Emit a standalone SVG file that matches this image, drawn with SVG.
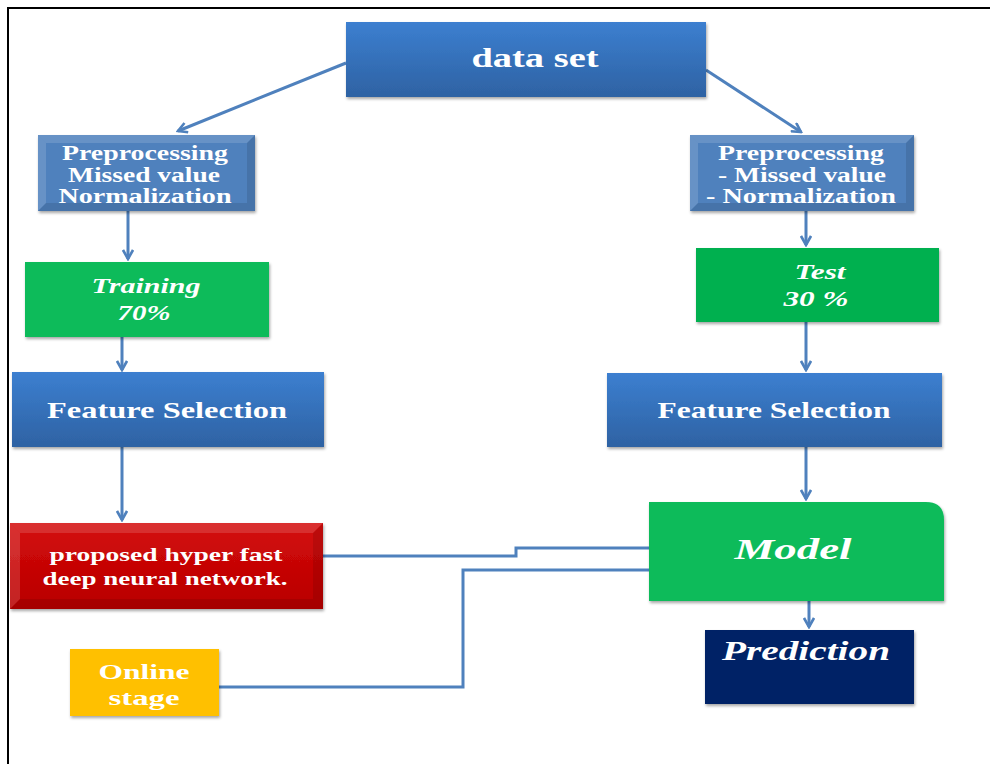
<svg xmlns="http://www.w3.org/2000/svg" width="990" height="764" viewBox="0 0 990 764">
<defs>
<linearGradient id="gBlue" x1="0" y1="0" x2="0" y2="1"><stop offset="0" stop-color="#3c7fd0"/><stop offset="1" stop-color="#2e62a3"/></linearGradient>
<linearGradient id="gRed" x1="0" y1="0" x2="0" y2="1"><stop offset="0" stop-color="#d40b0b"/><stop offset="1" stop-color="#b80000"/></linearGradient>
<filter id="sh" x="-5%" y="-5%" width="110%" height="115%"><feDropShadow dx="1" dy="2" stdDeviation="1.5" flood-color="#000" flood-opacity="0.35"/></filter>
<marker id="ah" viewBox="0 0 12 12" refX="10" refY="6" markerWidth="12" markerHeight="12" markerUnits="userSpaceOnUse" orient="auto"><path d="M1,1 L10,6 L1,11" fill="none" stroke="#4f81bd" stroke-width="2.6"/></marker>
</defs>
<style>
.t{font-family:"Liberation Serif","Times New Roman",serif;font-weight:bold;fill:#fff;text-anchor:middle}
.i{font-style:italic}
.c{fill:none;stroke:#4f81bd;stroke-width:3}
.bev{fill:#fff;opacity:0.14}
.bevd{fill:#000;opacity:0.1}
</style>
<rect x="0" y="0" width="990" height="764" fill="#fff"/>
<path d="M8,764 V8 H990" fill="none" stroke="#000" stroke-width="2"/>

<g id="connectors">
<path class="c" d="M346,63 L178,131" marker-end="url(#ah)"/>
<path class="c" d="M706,70 L801,132" marker-end="url(#ah)"/>
<path class="c" d="M128,211 V259" marker-end="url(#ah)"/>
<path class="c" d="M806,211 V245" marker-end="url(#ah)"/>
<path class="c" d="M122,337 V370" marker-end="url(#ah)"/>
<path class="c" d="M806,322 V370" marker-end="url(#ah)"/>
<path class="c" d="M122,447 V520" marker-end="url(#ah)"/>
<path class="c" d="M806,447 V499" marker-end="url(#ah)"/>
<path class="c" d="M809,601 V627" marker-end="url(#ah)"/>
<path class="c" d="M323,556 H516 V548 H649"/>
<path class="c" d="M219,687 H463 V570 H649"/>
</g>

<g id="dataset">
<rect x="346" y="22" width="360" height="75" fill="url(#gBlue)" filter="url(#sh)"/>
<text class="t" x="535" y="67" font-size="27" textLength="127" lengthAdjust="spacingAndGlyphs">data set</text>
</g>

<g id="preproc-left">
<rect x="38" y="135" width="217" height="76" fill="#4f81bd" filter="url(#sh)"/>
<polygon class="bev" points="38,135 255,135 247,143 46,143"/>
<polygon class="bev" points="38,135 46,143 46,203 38,211"/>
<polygon class="bevd" points="38,211 46,203 247,203 255,211"/>
<polygon class="bevd" points="255,135 255,211 247,203 247,143"/>
<text class="t" x="145" y="160" font-size="20" textLength="166" lengthAdjust="spacingAndGlyphs">Preprocessing</text>
<text class="t" x="144" y="182" font-size="20" textLength="152" lengthAdjust="spacingAndGlyphs">Missed value</text>
<text class="t" x="145" y="203" font-size="20" textLength="173" lengthAdjust="spacingAndGlyphs">Normalization</text>
</g>

<g id="preproc-right">
<rect x="690" y="135" width="224" height="76" fill="#4f81bd" filter="url(#sh)"/>
<polygon class="bev" points="690,135 914,135 906,143 698,143"/>
<polygon class="bev" points="690,135 698,143 698,203 690,211"/>
<polygon class="bevd" points="690,211 698,203 906,203 914,211"/>
<polygon class="bevd" points="914,135 914,211 906,203 906,143"/>
<text class="t" x="801" y="160" font-size="20" textLength="166" lengthAdjust="spacingAndGlyphs">Preprocessing</text>
<text class="t" x="802" y="182" font-size="20" textLength="168" lengthAdjust="spacingAndGlyphs">- Missed value</text>
<text class="t" x="801" y="203" font-size="20" textLength="190" lengthAdjust="spacingAndGlyphs">- Normalization</text>
</g>

<g id="training">
<rect x="25" y="262" width="244" height="75" fill="#08bb5a" filter="url(#sh)"/>
<text class="t i" x="146" y="293" font-size="22" textLength="109" lengthAdjust="spacingAndGlyphs">Training</text>
<text class="t i" x="144" y="320" font-size="22" textLength="53" lengthAdjust="spacingAndGlyphs">70%</text>
</g>

<g id="test">
<rect x="696" y="248" width="243" height="74" fill="#00b050" filter="url(#sh)"/>
<text class="t i" x="820" y="279" font-size="22" textLength="51" lengthAdjust="spacingAndGlyphs">Test</text>
<text class="t i" x="816" y="306" font-size="22" textLength="65" lengthAdjust="spacingAndGlyphs">30 %</text>
</g>

<g id="fs-left">
<rect x="12" y="372" width="312" height="75" fill="url(#gBlue)" filter="url(#sh)"/>
<text class="t" x="167" y="418" font-size="24" textLength="240" lengthAdjust="spacingAndGlyphs">Feature Selection</text>
</g>

<g id="fs-right">
<rect x="607" y="373" width="335" height="74" fill="url(#gBlue)" filter="url(#sh)"/>
<text class="t" x="774" y="418" font-size="24" textLength="233" lengthAdjust="spacingAndGlyphs">Feature Selection</text>
</g>

<g id="proposed">
<rect x="10" y="523" width="313" height="86" fill="url(#gRed)" filter="url(#sh)"/>
<polygon class="bev" points="10,523 323,523 313,533 20,533"/>
<polygon class="bev" points="10,523 20,533 20,599 10,609"/>
<polygon class="bevd" points="10,609 20,599 313,599 323,609"/>
<polygon class="bevd" points="323,523 323,609 313,599 313,533"/>
<text class="t" x="166" y="561" font-size="19" textLength="233" lengthAdjust="spacingAndGlyphs">proposed hyper fast</text>
<text class="t" x="165" y="585" font-size="19" textLength="245" lengthAdjust="spacingAndGlyphs">deep neural network.</text>
</g>

<g id="model">
<path d="M649,502 H926 Q944,502 944,520 V601 H649 Z" fill="#08bb5a" filter="url(#sh)"/>
<text class="t i" x="793" y="559" font-size="30" textLength="117" lengthAdjust="spacingAndGlyphs">Model</text>
</g>

<g id="prediction">
<rect x="705" y="630" width="209" height="74" fill="#062366" filter="url(#sh)"/>
<text class="t i" x="806" y="660" font-size="28" textLength="168" lengthAdjust="spacingAndGlyphs">Prediction</text>
</g>

<g id="online">
<rect x="70" y="649" width="149" height="67" fill="#ffc000" filter="url(#sh)"/>
<text class="t" x="144" y="679" font-size="22" textLength="91" lengthAdjust="spacingAndGlyphs">Online</text>
<text class="t" x="144" y="705" font-size="22" textLength="71" lengthAdjust="spacingAndGlyphs">stage</text>
</g>
</svg>
